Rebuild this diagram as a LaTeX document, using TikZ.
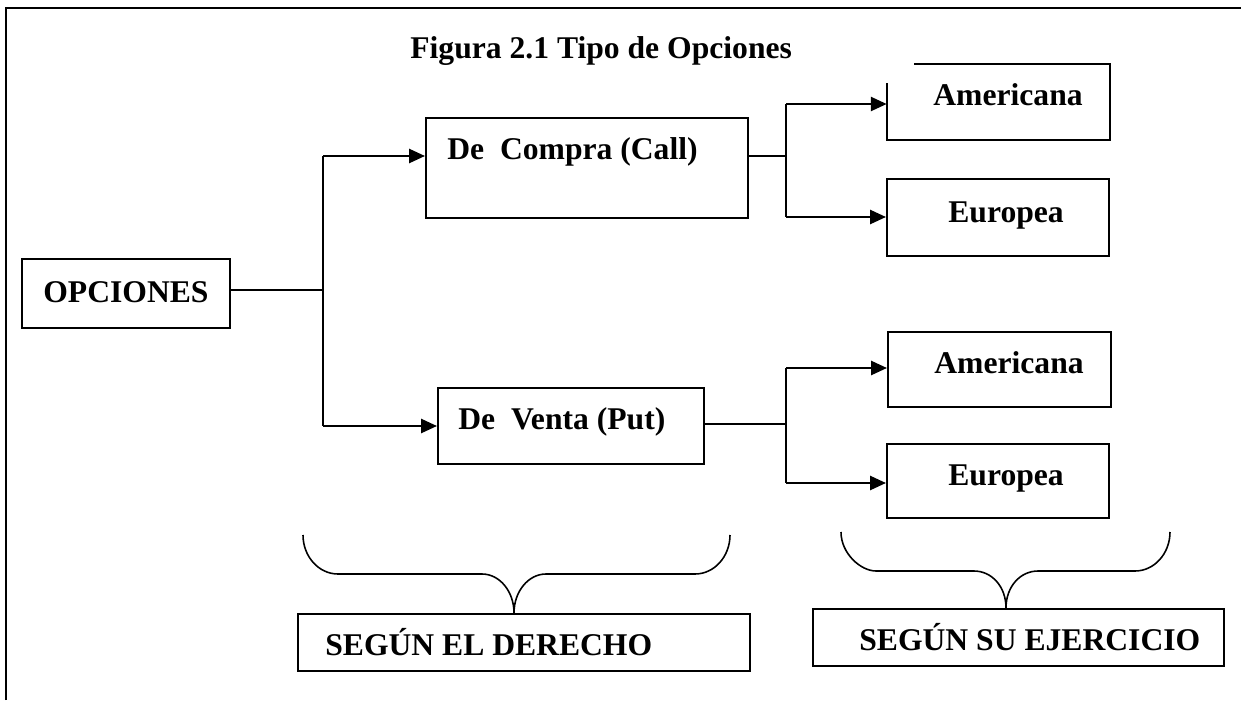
\documentclass[tikz,border=0pt]{standalone}
\usepackage{fontspec}
\setmainfont{Liberation Serif}
\usetikzlibrary{arrows.meta}
\begin{document}
\begin{tikzpicture}[x=0.02cm,y=-0.02cm,
  boxnode/.style={draw=black,line width=1.2pt,inner sep=0pt},
  hidbox/.style={inner sep=0pt},
  lab/.style={font=\fontsize{18}{21}\selectfont\bfseries,inner sep=0pt,anchor=base west},
  conn/.style={line width=1.2pt},
  arr/.style={line width=1.2pt,-{Triangle[length=9pt,width=8pt]}},
  brace/.style={line width=0.9pt}]
\useasboundingbox (0,0) rectangle (1241,700);
% frame
\draw[line width=1.3pt] (6,700) -- (6,8) -- (1241,8);
% title
\node[lab] (title) at (410,58) {Figura 2.1 Tipo de Opciones};
% boxes
\node[boxnode,minimum width=4.16cm,minimum height=1.38cm] (opc) at (126,293.5) {};
\node[boxnode,minimum width=6.44cm,minimum height=2.0cm] (compra) at (587,168) {};
\node[boxnode,minimum width=5.32cm,minimum height=1.52cm] (venta) at (571,426) {};
\node[hidbox,minimum width=4.46cm,minimum height=1.52cm] (am1) at (998.5,102) {};
\draw[line width=1.2pt] (914,64) -- (1110,64) -- (1110,140) -- (887,140) -- (887,83);
\node[boxnode,minimum width=4.44cm,minimum height=1.54cm] (eu1) at (998,217.5) {};
\node[boxnode,minimum width=4.46cm,minimum height=1.5cm] (am2) at (999.5,369.5) {};
\node[boxnode,minimum width=4.44cm,minimum height=1.48cm] (eu2) at (998,481) {};
\node[boxnode,minimum width=9.04cm,minimum height=1.14cm] (derecho) at (524,642.5) {};
\node[boxnode,minimum width=8.22cm,minimum height=1.14cm] (ejercicio) at (1018.5,637.5) {};
% labels
\node[lab] (topc) at (43,302) {OPCIONES};
\node[lab] (tcompra) at (447,159) {De~~Compra (Call)};
\node[lab] (tventa) at (458,429) {De~~Venta (Put)};
\node[lab] (tam1) at (933,105) {Americana};
\node[lab] (teu1) at (948,222) {Europea};
\node[lab] (tam2) at (934,373) {Americana};
\node[lab] (teu2) at (948,485) {Europea};
\node[lab] (tder) at (325,655) {SEGÚN EL DERECHO};
\node[lab] (tej) at (859,650) {SEGÚN SU EJERCICIO};
% junction coordinates
\coordinate (j1a) at (323,156);
\coordinate (j1m) at (323,290);
\coordinate (j1b) at (323,426);
\coordinate (j2a) at (786,104);
\coordinate (j2m) at (786,156);
\coordinate (j2b) at (786,217);
\coordinate (j3a) at (786,368);
\coordinate (j3m) at (786,424);
\coordinate (j3b) at (786,483);
% connectors
\draw[conn] (opc.east |- j1m) -- (j1m);
\draw[conn] (j1a) -- (j1b);
\draw[arr] (j1a) -- (compra.west |- j1a);
\draw[arr] (j1b) -- (venta.west |- j1b);
\draw[conn] (compra.east |- j2m) -- (j2m);
\draw[conn] (j2a) -- (j2b);
\draw[arr] (j2a) -- (am1.west |- j2a);
\draw[arr] (j2b) -- (eu1.west |- j2b);
\draw[conn] (venta.east |- j3m) -- (j3m);
\draw[conn] (j3a) -- (j3b);
\draw[arr] (j3a) -- (am2.west |- j3a);
\draw[arr] (j3b) -- (eu2.west |- j3b);
% braces
\coordinate (tip1) at (514,613);
\coordinate (tip2) at (1006,608);
\draw[brace] (303,535) .. controls (303,556.5) and (318.7,574) .. (338,574)
  -- (482,574) .. controls (499.7,574) and (514,591.5) .. (tip1)
  .. controls (514,591.5) and (528.3,574) .. (546,574)
  -- (695,574) .. controls (714.3,574) and (730,556.5) .. (730,535);
\draw[brace] (841,532) .. controls (841,553.5) and (860.7,571) .. (876,571)
  -- (974,571) .. controls (991.7,571) and (1006,586.5) .. (tip2)
  .. controls (1006,586.5) and (1020.3,571) .. (1038,571)
  -- (1135,571) .. controls (1154.3,571) and (1170,553.5) .. (1170,532);
\end{tikzpicture}
\end{document}
